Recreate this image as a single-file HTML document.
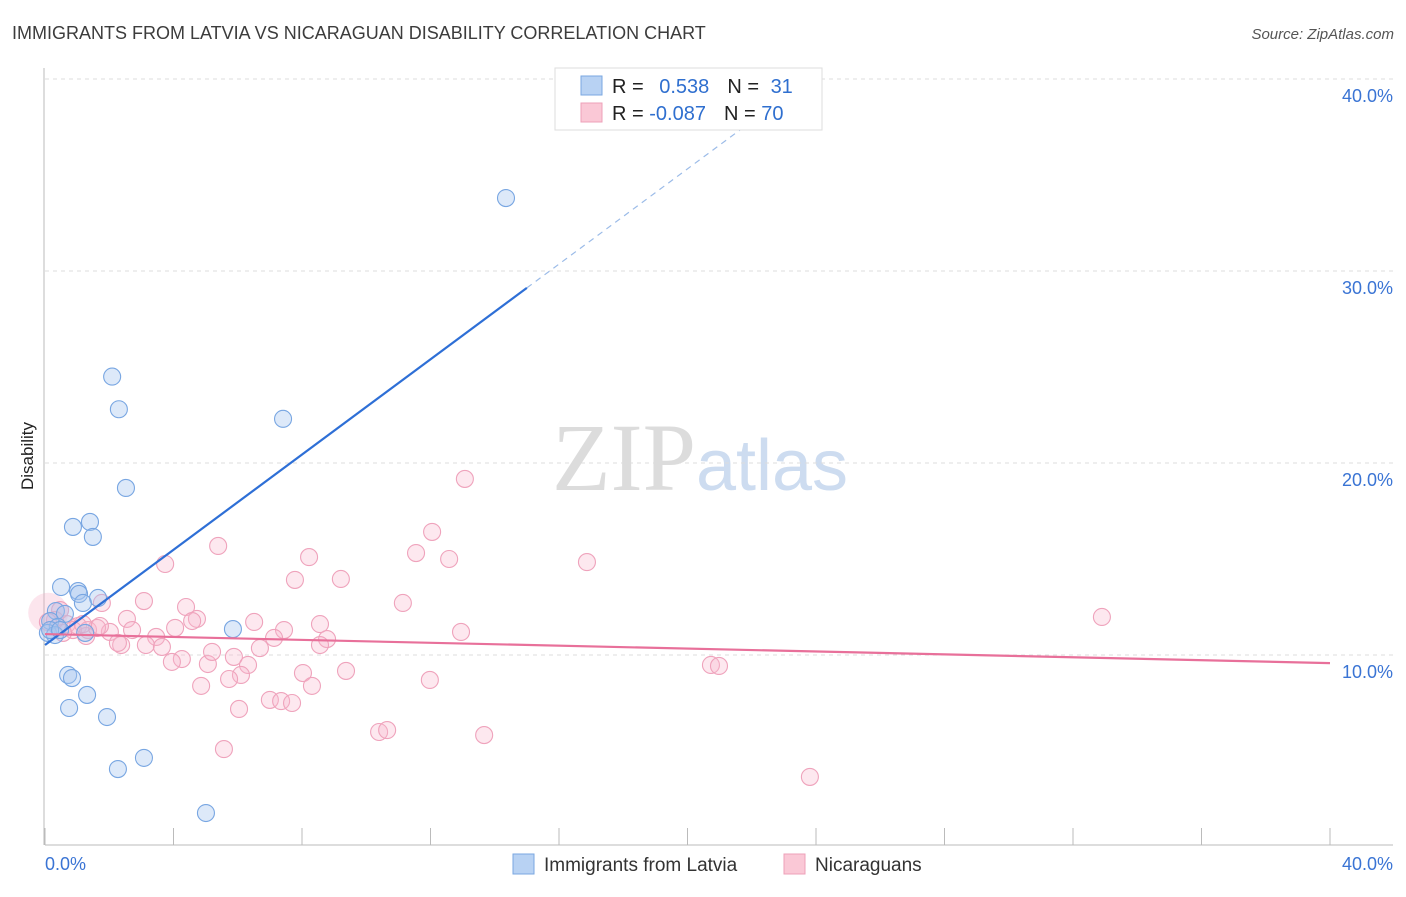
<!DOCTYPE html>
<html><head><meta charset="utf-8"><style>
body{margin:0;background:#fff;font-family:"Liberation Sans",sans-serif}
</style></head><body>
<svg id="c" width="1406" height="892" xmlns="http://www.w3.org/2000/svg" font-family="Liberation Sans, sans-serif">
<text x="12" y="39" font-size="18" fill="#3c3c3c">IMMIGRANTS FROM LATVIA VS NICARAGUAN DISABILITY CORRELATION CHART</text>
<text x="1394" y="39" font-size="15" fill="#555" text-anchor="end" font-style="italic">Source: ZipAtlas.com</text>
<text x="720" y="490" font-size="96" text-anchor="middle" transform="translate(-20,0)"><tspan fill="#dcdcdc" font-family="Liberation Serif, serif">ZIP</tspan><tspan fill="#cddcf0" font-size="72">atlas</tspan></text>
<text transform="translate(33,456) rotate(-90)" font-size="17" fill="#222" text-anchor="middle">Disability</text>
<g id="axes"></g>
<g id="marks"></g>
<g>
<rect x="555" y="68" width="267" height="62" fill="#fff" stroke="#ddd"/>
<rect x="581" y="76" width="21" height="19" fill="#b8d2f3" stroke="#7aa7e0"/>
<rect x="581" y="103" width="21" height="19" fill="#fac8d6" stroke="#eea0b8"/>
<text x="612" y="93" font-size="20" fill="#222">R = <tspan fill="#2f6fcf" dx="10">0.538</tspan><tspan dx="18" fill="#222">N = </tspan><tspan fill="#2f6fcf" dx="6">31</tspan></text>
<text x="612" y="120" font-size="20" fill="#222">R = <tspan fill="#2f6fcf">-0.087</tspan><tspan dx="18" fill="#222">N = </tspan><tspan fill="#2f6fcf">70</tspan></text>
</g>
<g>
<rect x="513" y="854" width="21" height="20" fill="#b8d2f3" stroke="#7aa7e0"/>
<text x="544" y="871" font-size="19" fill="#333">Immigrants from Latvia</text>
<rect x="784" y="854" width="21" height="20" fill="#fac8d6" stroke="#eea0b8"/>
<text x="815" y="871" font-size="19" fill="#333">Nicaraguans</text>
</g>
</svg>
<script>
const blueX=[14.35,2.09,2.30,7.41,2.52,0.87,1.40,1.49,0.50,1.03,1.06,1.65,1.18,0.34,0.62,0.16,0.40,0.09,0.31,5.85,0.72,0.84,1.31,0.75,1.93,3.08,2.27,5.01,0.16,0.47,1.25];
const blueY=[33.8,24.5,22.8,22.3,18.7,16.67,16.93,16.15,13.54,13.33,13.18,12.97,12.71,12.29,12.14,11.77,11.46,11.15,11.04,11.35,8.96,8.80,7.92,7.24,6.77,4.64,4.06,1.77,11.3,11.3,11.15];
const pinkX=[13.07,12.05,5.39,8.22,11.55,12.58,16.87,3.74,7.78,9.21,11.14,3.08,4.39,1.77,4.73,4.58,6.51,8.56,2.55,4.05,7.44,12.95,2.71,2.02,3.46,7.13,8.78,6.69,3.14,2.37,2.27,3.64,8.56,4.26,3.95,5.07,5.88,6.32,5.20,8.03,9.37,6.10,5.73,4.86,8.31,11.98,20.73,20.98,6.04,7.00,7.35,7.69,10.40,10.65,13.67,5.57,23.81,32.90,0.47,0.68,1.03,1.34,1.28,1.62,0.31,0.87,0.56,1.71,0.09,1.18];
const pinkY=[19.17,16.41,15.68,15.10,15.31,15.00,14.84,14.74,13.91,13.96,12.71,12.81,12.50,12.71,11.88,11.77,11.72,11.61,11.88,11.41,11.30,11.20,11.30,11.20,10.94,10.89,10.83,10.36,10.52,10.52,10.63,10.42,10.52,9.79,9.64,9.53,9.90,9.48,10.16,9.06,9.17,8.96,8.75,8.39,8.39,8.70,9.48,9.43,7.19,7.66,7.60,7.50,5.99,6.09,5.83,5.10,3.65,11.98,12.34,11.61,11.51,11.30,10.99,11.41,11.82,11.30,11.15,11.51,11.72,11.61];
const yTicks=[10,20,30,40];
const yTickLabels=["10.0%","20.0%","30.0%","40.0%"];
const xTicks=[0,4,8,12,16,20,24,28,32,36,40];
const blueTrend=[10.52,1.24];
const pinkTrend=[11.09,-0.0378];
const NS="http://www.w3.org/2000/svg";
const X=v=>45+v*32.125, Y=v=>847-v*19.2;
function mk(p,t,a){const e=document.createElementNS(NS,t);for(const k in a)e.setAttribute(k,a[k]);p.appendChild(e);return e;}
const ax=document.getElementById('axes'),mg=document.getElementById('marks');
yTicks.forEach((t,i)=>{
 const g=mk(ax,'line',{x1:45,x2:1393,y1:Y(t),y2:Y(t),stroke:'#ddd','stroke-dasharray':'4,4'});
 
 
 const l=mk(ax,'text',{x:1393,y:Y(t)+23,'font-size':18,fill:'#3a74d4','text-anchor':'end'});
 l.textContent=yTickLabels[i];
 
 
});
const xa=mk(ax,'line',{x1:45,x2:1393,y1:845,y2:845,stroke:'#bbb'});


const ya=mk(ax,'line',{x1:44,x2:44,y1:68,y2:845,stroke:'#bbb'});


xTicks.forEach(t=>{const e=mk(ax,'line',{x1:X(t),x2:X(t),y1:828,y2:845,stroke:'#bbb'});
 
 });
[[0,"0.0%",'start',45],[40,"40.0%",'end',1393]].forEach(d=>{const e=mk(ax,'text',{x:d[3],y:870,'font-size':18,fill:'#3a74d4','text-anchor':d[2]});e.textContent=d[1];
 
 });
const big=mk(mg,'circle',{cx:X(0.1),cy:Y(12.2),r:20,fill:'rgba(246,170,195,0.3)'});


pinkX.forEach((x,i)=>{const c=mk(mg,'circle',{cx:X(x),cy:Y(pinkY[i]),r:8.5,fill:'rgba(248,185,205,0.32)',stroke:'#efa3bc','stroke-width':1.1});
 
 });
blueX.forEach((x,i)=>{const c=mk(mg,'circle',{cx:X(x),cy:Y(blueY[i]),r:8.5,fill:'rgba(165,198,240,0.38)',stroke:'#78a6e2','stroke-width':1.1});
 
 });
const bt=v=>blueTrend[0]+blueTrend[1]*v;
const b1=mk(mg,'line',{x1:X(0),y1:Y(bt(0)),x2:X(15),y2:Y(bt(15)),stroke:'#2e6fd6','stroke-width':2.2});


const b2=mk(mg,'line',{x1:X(15),y1:Y(bt(15)),x2:X(22.3),y2:Y(bt(22.3)),stroke:'#9bbbe8','stroke-width':1.2,'stroke-dasharray':'6,5'});


const pt=v=>pinkTrend[0]+pinkTrend[1]*v;
const p1=mk(mg,'line',{x1:X(0),y1:Y(pt(0)),x2:X(40),y2:Y(pt(40)),stroke:'#e8709a','stroke-width':2.2});


</script>
</body></html>
